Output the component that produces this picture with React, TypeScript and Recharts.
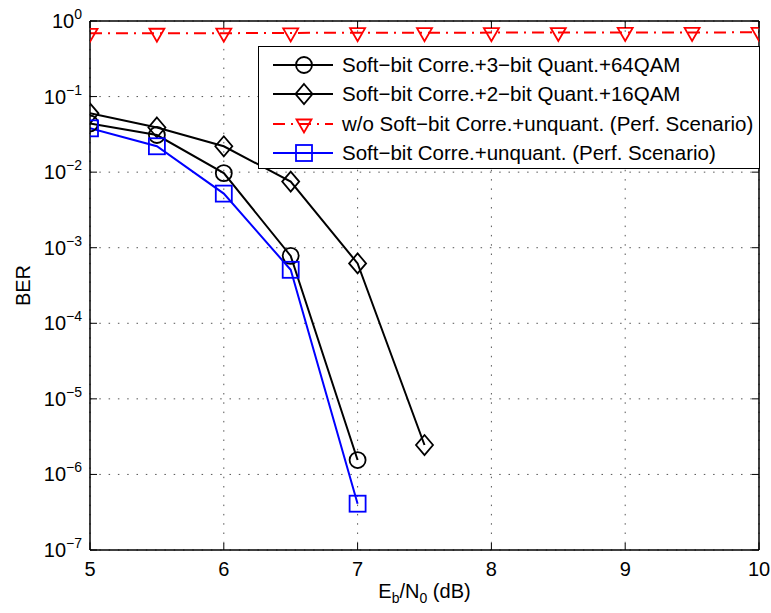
import React from 'react';
import { LineChart, Line, XAxis, YAxis, CartesianGrid, Legend } from 'recharts';

const xTicks = [5, 6, 7, 8, 9, 10];
const yTicks = [1e-7, 1e-6, 1e-5, 1e-4, 1e-3, 1e-2, 1e-1, 1];
const yExponents = ['−7', '−6', '−5', '−4', '−3', '−2', '−1', '0'];

const snr3bit = [5, 5.5, 6, 6.5, 7];
const ber3bit64QAM = [0.044, 0.031, 0.0097, 0.00078, 1.55e-6];

const snr2bit = [5, 5.5, 6, 6.5, 7, 7.5];
const ber2bit16QAM = [0.06, 0.039, 0.022, 0.0075, 6.2e-4, 2.45e-6];

const snrNoCorr = [5, 5.5, 6, 6.5, 7, 7.5, 8, 8.5, 9, 9.5, 10];
const berNoCorr = [0.687, 0.688, 0.69, 0.695, 0.7, 0.7, 0.702, 0.703, 0.705, 0.706, 0.708];

const snrUnquant = [5, 5.5, 6, 6.5, 7];
const berUnquant = [0.038, 0.022, 0.0052, 0.00051, 4.1e-7];

const legendLabels = [
  'Soft−bit Corre.+3−bit Quant.+64QAM',
  'Soft−bit Corre.+2−bit Quant.+16QAM',
  'w/o Soft−bit Corre.+unquant. (Perf. Scenario)',
  'Soft−bit Corre.+unquant. (Perf. Scenario)',
];

const toRows = (xs: number[], ys: number[]) => xs.map((x, i) => ({ x, y: ys[i] }));

const FONT = '"Liberation Sans", Arial, Helvetica, sans-serif';
const RED = '#ff0000';
const BLUE = '#0000ff';
const FS = 20;
const FS_SMALL = 14;

type Shape = 'circle' | 'diamond' | 'tri' | 'square';

function Marker({ shape, cx, cy, color }: { shape: Shape; cx: number; cy: number; color: string }) {
  const common = { fill: 'none', stroke: color, strokeWidth: 1.8 };
  if (shape === 'circle') return <circle cx={cx} cy={cy} r={8} {...common} />;
  if (shape === 'square') return <rect x={cx - 8} y={cy - 8} width={16} height={16} {...common} />;
  if (shape === 'diamond')
    return <polygon points={`${cx},${cy - 10} ${cx + 8.5},${cy} ${cx},${cy + 10} ${cx - 8.5},${cy}`} {...common} />;
  return <polygon points={`${cx - 7.5},${cy - 4.5} ${cx + 7.5},${cy - 4.5} ${cx},${cy + 8.5}`} {...common} />;
}

const makeDot = (shape: Shape, color: string) => (props: any) => {
  const { cx, cy, index } = props;
  if (cx == null || cy == null) return <g key={index} />;
  return <Marker key={`${shape}-${index}`} shape={shape} cx={cx} cy={cy} color={color} />;
};

const BottomTick = (props: any) => {
  const { x, y, payload } = props;
  return (
    <g>
      <line x1={x} x2={x} y1={y} y2={y - 7} stroke="#000" strokeWidth={1} />
      <text x={x} y={y + 26} textAnchor="middle" fontSize={FS} fontFamily={FONT} fill="#000">
        {payload.value}
      </text>
    </g>
  );
};

const TopTick = (props: any) => {
  const { x, y } = props;
  return <line x1={x} x2={x} y1={y} y2={y + 7} stroke="#000" strokeWidth={1} />;
};

const LeftTick = (props: any) => {
  const { x, y, payload, index } = props;
  const idx = yTicks.indexOf(payload.value);
  const exp = yExponents[idx >= 0 ? idx : index];
  return (
    <g>
      <line x1={x} x2={x + 7} y1={y} y2={y} stroke="#000" strokeWidth={1} />
      <text x={x - 8} y={y + 7} textAnchor="end" fontSize={FS} fontFamily={FONT} fill="#000">
        <tspan>10</tspan>
        <tspan dy={-9} fontSize={FS_SMALL}>{exp}</tspan>
      </text>
    </g>
  );
};

const RightTick = (props: any) => {
  const { x, y } = props;
  return <line x1={x - 7} x2={x} y1={y} y2={y} stroke="#000" strokeWidth={1} />;
};

const legendStyles: { shape: Shape; color: string; dash?: string }[] = [
  { shape: 'circle', color: '#000' },
  { shape: 'diamond', color: '#000' },
  { shape: 'tri', color: RED, dash: '12 6 2 6' },
  { shape: 'square', color: BLUE },
];

const LegendBox = () => {
  const rowsY = [19, 48, 78, 107];
  return (
    <svg width={502} height={123} style={{ display: 'block' }}>
      <rect x={0.5} y={0.5} width={501} height={122} fill="#fff" stroke="#000" strokeWidth={1} />
      {legendLabels.map((label, i) => {
        const s = legendStyles[i];
        const cy = rowsY[i];
        return (
          <g key={label}>
            <line x1={15} x2={75} y1={cy} y2={cy} stroke={s.color} strokeWidth={2} strokeDasharray={s.dash} />
            <Marker shape={s.shape} cx={46} cy={cy} color={s.color} />
            <text x={84} y={cy + 7} fontSize={20.5} fontFamily={FONT} fill="#000">
              {label}
            </text>
          </g>
        );
      })}
    </svg>
  );
};

export default function App() {
  return (
    <div style={{ width: 771, height: 613, fontFamily: FONT }}>
      <style>{'body{margin:0;}'}</style>
      <LineChart width={771} height={613} margin={{ top: 20, right: 11, bottom: 0, left: 0 }}>
        <CartesianGrid stroke="#555" strokeDasharray="1.5 7.8" />
        <XAxis
          xAxisId={0}
          type="number"
          dataKey="x"
          domain={[5, 10]}
          ticks={xTicks}
          height={63}
          tickSize={0}
          tickMargin={0}
          tickLine={false}
          tick={<BottomTick />}
          axisLine={{ stroke: '#000', strokeWidth: 1.5 }}
          allowDataOverflow
          interval={0}
          label={{
            content: (p: any) => {
              const vb = p.viewBox || {};
              const cx = (vb.x ?? 90) + (vb.width ?? 669) / 2;
              return (
                <text x={cx} y={598} textAnchor="middle" fontSize={FS} fontFamily={FONT} fill="#000">
                  <tspan>E</tspan>
                  <tspan dy={5} fontSize={FS_SMALL}>b</tspan>
                  <tspan dy={-5}>/N</tspan>
                  <tspan dy={5} fontSize={FS_SMALL}>0</tspan>
                  <tspan dy={-5}> (dB)</tspan>
                </text>
              );
            },
          }}
        />
        <XAxis
          xAxisId="top"
          orientation="top"
          type="number"
          dataKey="x"
          domain={[5, 10]}
          ticks={xTicks}
          height={1}
          tickSize={0}
          tickMargin={0}
          tickLine={false}
          tick={<TopTick />}
          axisLine={{ stroke: '#000', strokeWidth: 1.5 }}
          allowDataOverflow
          interval={0}
        />
        <YAxis
          yAxisId={0}
          scale="log"
          domain={[1e-7, 1]}
          ticks={yTicks}
          width={90}
          tickSize={0}
          tickMargin={0}
          tickLine={false}
          tick={<LeftTick />}
          axisLine={{ stroke: '#000', strokeWidth: 1.5 }}
          allowDataOverflow
          interval={0}
          label={{
            content: (p: any) => {
              const vb = p.viewBox || {};
              const cy = (vb.y ?? 21) + (vb.height ?? 529) / 2;
              return (
                <text
                  x={30}
                  y={cy}
                  transform={`rotate(-90 30 ${cy})`}
                  textAnchor="middle"
                  fontSize={FS}
                  fontFamily={FONT}
                  fill="#000"
                >
                  BER
                </text>
              );
            },
          }}
        />
        <YAxis
          yAxisId="right"
          orientation="right"
          scale="log"
          domain={[1e-7, 1]}
          ticks={yTicks}
          width={1}
          tickSize={0}
          tickMargin={0}
          tickLine={false}
          tick={<RightTick />}
          axisLine={{ stroke: '#000', strokeWidth: 1.5 }}
          allowDataOverflow
          interval={0}
        />
        <Line
          data={toRows(snrNoCorr, berNoCorr)}
          dataKey="y"
          stroke={RED}
          strokeWidth={2}
          strokeDasharray="12 6 2 6"
          dot={makeDot('tri', RED)}
          isAnimationActive={false}
        />
        <Line
          data={toRows(snr2bit, ber2bit16QAM)}
          dataKey="y"
          stroke="#000"
          strokeWidth={2}
          dot={makeDot('diamond', '#000')}
          isAnimationActive={false}
        />
        <Line
          data={toRows(snr3bit, ber3bit64QAM)}
          dataKey="y"
          stroke="#000"
          strokeWidth={2}
          dot={makeDot('circle', '#000')}
          isAnimationActive={false}
        />
        <Line
          data={toRows(snrUnquant, berUnquant)}
          dataKey="y"
          stroke={BLUE}
          strokeWidth={2}
          dot={makeDot('square', BLUE)}
          isAnimationActive={false}
        />
        <Legend
          layout="vertical"
          align="center"
          verticalAlign="middle"
          content={() => <LegendBox />}
          wrapperStyle={{ position: 'absolute', left: 258, top: 46, width: 502, height: 123, margin: 0, padding: 0 }}
        />
      </LineChart>
    </div>
  );
}
